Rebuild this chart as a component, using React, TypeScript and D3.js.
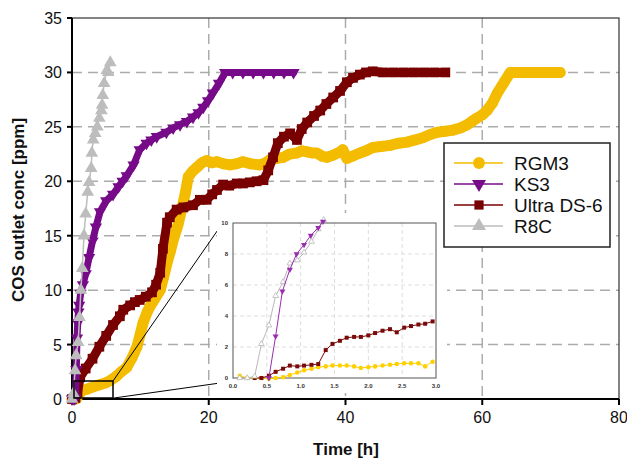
import React from "react";
import * as d3 from "d3";

// ---------- data (hours, ppm) ----------
const seriesNames = ["RGM3", "KS3", "Ultra DS-6", "R8C"];

const rgm3Main: [number, number][] = [
  [0, 0], [0.6, 0], [1.1, 0.5], [1.6, 0.8], [2.2, 0.9], [3.0, 1.1], [4.0, 1.3], [5.0, 1.5], [5.6, 1.7], [6.5, 2.1],
  [7.2, 2.5], [8.0, 2.9], [8.8, 3.8], [9.5, 4.8], [10.0, 6.0], [10.4, 7.0], [11.0, 8.0], [11.4, 8.5], [12.2, 9.3],
  [12.9, 10.0], [13.4, 11.2], [13.9, 12.5], [14.4, 13.6], [14.8, 14.6], [15.5, 16.0], [16.1, 17.6], [16.6, 19.0],
  [17.0, 20.4], [17.6, 20.9], [18.3, 21.3], [19.0, 21.7], [19.7, 21.9], [20.4, 21.7], [21.2, 21.8], [22.2, 21.6],
  [23.1, 21.5], [24.0, 21.6], [25.0, 21.8], [26.2, 21.6], [27.5, 21.5], [28.3, 21.7], [29.0, 22.0], [30.0, 22.1],
  [30.9, 22.2], [31.8, 22.5], [32.9, 22.6], [33.6, 22.8], [34.4, 22.7], [35.1, 22.6], [35.8, 22.6], [36.6, 22.3],
  [37.3, 22.2], [38.2, 22.4], [39.2, 22.7], [39.6, 22.9], [40.2, 22.1], [41.0, 22.3], [42.1, 22.6], [43.0, 22.8],
  [44.0, 23.1], [45.2, 23.2], [46.5, 23.3], [47.8, 23.5], [49.0, 23.6], [50.2, 23.8], [51.3, 24.0], [52.4, 24.3],
  [53.4, 24.5], [54.6, 24.6], [55.7, 24.7], [56.8, 24.9], [57.8, 25.2], [58.5, 25.5], [59.2, 25.8], [60.0, 26.1],
  [60.7, 26.5], [61.5, 27.2], [62.2, 28.1], [63.2, 29.1], [64.1, 30.0], [65.5, 30.0], [67.0, 30.0], [68.5, 30.0],
  [70.0, 30.0], [71.4, 30.0],
];

const ks3Main: [number, number][] = [
  [0, 0], [0.3, 0], [0.5, 0.1], [0.63, 2.7], [0.73, 5.6], [0.84, 7.0], [0.94, 8.0], [1.05, 8.6], [1.26, 9.7],
  [1.6, 10.5], [2.0, 11.5], [2.5, 13.0], [3.0, 14.5], [3.5, 15.8], [4.1, 17.2], [5.0, 18.2], [6.0, 18.8],
  [6.8, 19.5], [7.4, 20.0], [8.0, 20.5], [9.0, 21.5], [9.9, 22.9], [10.9, 23.5], [11.6, 23.8], [12.4, 24.1],
  [13.8, 24.5], [14.8, 24.9], [15.8, 25.2], [16.8, 25.5], [17.7, 25.9], [18.5, 26.3], [19.2, 26.8], [19.9, 27.4],
  [20.6, 28.1], [21.5, 29.0], [22.4, 30.0], [23.5, 30.0], [25.0, 30.0], [26.5, 30.0], [28.0, 30.0], [29.5, 30.0],
  [31.0, 30.0], [32.4, 30.0],
];

const ultraMain: [number, number][] = [
  [0, 0], [0.5, 0.1], [0.8, 0.6], [1.2, 2.0], [2.0, 2.8], [3.0, 3.7], [4.0, 4.8], [5.0, 5.8], [6.0, 6.8],
  [7.0, 7.6], [7.5, 8.2], [8.5, 8.6], [9.2, 8.9], [9.9, 9.1], [10.8, 9.4], [11.7, 9.8], [12.3, 10.5], [12.9, 11.6],
  [13.3, 13.8], [13.9, 16.2], [14.3, 16.7], [15.3, 17.4], [16.3, 17.6], [17.7, 17.8], [18.7, 18.3], [19.7, 18.3],
  [20.5, 18.8], [21.2, 19.2], [22.1, 19.7], [23.0, 19.6], [24.1, 19.8], [25.0, 19.8], [26.0, 19.9], [27.0, 20.0],
  [28.0, 20.1], [28.7, 21.0], [29.4, 22.2], [30.1, 23.5], [31.0, 24.1], [31.9, 24.4], [32.9, 23.8], [33.6, 24.8],
  [34.4, 25.4], [35.4, 26.0], [36.3, 26.5], [37.2, 27.1], [38.2, 27.7], [39.2, 28.3], [40.2, 29.1], [41.1, 29.5],
  [42.1, 29.8], [43.0, 30.0], [44.0, 30.1], [45.5, 30.0], [47.0, 30.0], [48.5, 30.0], [50.0, 30.0], [51.5, 30.0],
  [53.0, 30.0], [54.6, 30.0],
];

const r8cMain: [number, number][] = [
  [0, 0], [0.2, 0.5], [0.45, 2.6], [0.6, 4.0], [0.9, 5.2], [1.1, 7.5], [1.3, 10.0], [1.5, 12.0], [1.75, 15.0],
  [2.0, 17.0], [2.3, 19.0], [2.5, 19.9], [2.8, 21.2], [2.9, 22.6], [3.1, 23.8], [3.4, 24.4], [3.7, 25.0],
  [4.0, 25.8], [4.3, 26.5], [4.4, 27.0], [4.5, 27.9], [4.7, 29.0], [5.1, 30.2], [5.6, 30.9], [5.3, 30.0],
];

const rgm3Inset: [number, number][] = [
  [0.1, 0.15], [0.21, 0.0], [0.32, 0.0], [0.42, 0.0], [0.53, -0.05], [0.63, 0.0], [0.74, 0.05], [0.84, 0.2],
  [0.95, 0.35], [1.05, 0.5], [1.16, 0.6], [1.26, 0.7], [1.37, 0.75], [1.47, 0.8], [1.58, 0.8], [1.68, 0.8],
  [1.79, 0.75], [1.89, 0.65], [2.0, 0.7], [2.1, 0.75], [2.21, 0.8], [2.32, 0.85], [2.42, 0.9], [2.53, 0.95],
  [2.63, 0.95], [2.74, 0.95], [2.84, 0.75], [2.95, 1.05],
];
const ks3Inset: [number, number][] = [
  [0.53, 0.0], [0.63, 2.7], [0.73, 5.6], [0.84, 7.0], [0.94, 8.0], [1.05, 8.6], [1.15, 9.2], [1.26, 9.7], [1.33, 10.1],
];
const ultraInset: [number, number][] = [
  [0.32, 0.0], [0.42, 0.0], [0.53, 0.15], [0.63, 0.4], [0.74, 0.6], [0.84, 0.8], [0.95, 0.75], [1.05, 0.8],
  [1.16, 0.85], [1.26, 0.9], [1.37, 1.8], [1.47, 2.2], [1.58, 2.4], [1.68, 2.6], [1.79, 2.65], [1.89, 2.65],
  [2.0, 2.75], [2.1, 2.9], [2.21, 3.05], [2.32, 3.15], [2.42, 2.95], [2.53, 3.25], [2.63, 3.35], [2.74, 3.45],
  [2.84, 3.5], [2.95, 3.65],
];
const r8cInset: [number, number][] = [
  [0.1, 0.0], [0.21, 0.0], [0.32, 0.1], [0.42, 2.2], [0.53, 3.4], [0.63, 5.3], [0.74, 6.2], [0.84, 7.4],
  [0.95, 7.6], [1.05, 8.1], [1.16, 8.8], [1.26, 9.6], [1.34, 10.2],
];

const xTicks = [0, 20, 40, 60, 80];
const yTicks = [0, 5, 10, 15, 20, 25, 30, 35];
const insetXTicks = [0, 0.5, 1.0, 1.5, 2.0, 2.5, 3.0];
const insetYTicks = [0, 2, 4, 6, 8, 10];

// ---------- styles ----------
const colors = ["#F4BC00", "#760A88", "#780000", "#BDBDBD"];
const insetColors = ["#FFD000", "#9A2DAE", "#7A0A0A", "#B8B8B8"];
const symbols = [d3.symbolCircle, d3.symbolTriangle, d3.symbolSquare, d3.symbolTriangle];
const rotations = [0, 180, 0, 0];

export default function App() {
  const W = 627, H = 460;
  const x = d3.scaleLinear().domain([0, 80]).range([72, 619]);
  const y = d3.scaleLinear().domain([0, 35]).range([399, 18]);
  const xi = d3.scaleLinear().domain([0, 3]).range([233, 436]);
  const yi = d3.scaleLinear().domain([0, 10]).range([378, 223]);

  const mainData = [rgm3Main, ultraMain, ks3Main, r8cMain];
  const mainIdx = [0, 2, 1, 3];
  const mainWidth = [11, 9, 7, 1.5];
  const mainSize = [90, 95, 65, 70];

  const insetData = [rgm3Inset, ultraInset, r8cInset, ks3Inset];
  const insetIdx = [0, 2, 3, 1];

  const line = (sx: any, sy: any) =>
    d3.line<[number, number]>().x((d) => sx(d[0])).y((d) => sy(d[1]));

  const font = "'Liberation Sans', Arial, sans-serif";

  return (
    <svg width={W} height={H} style={{ position: "absolute", left: 0, top: 0, background: "#fff" }} fontFamily={font}>
      <rect x={0} y={0} width={W} height={H} fill="#fff" />
      {/* grid */}
      {xTicks.slice(1, -1).map((t) => (
        <line key={"gx" + t} x1={x(t)} x2={x(t)} y1={y(35)} y2={y(0)} stroke="#ABABAB" strokeWidth={1.5} strokeDasharray="10,6" />
      ))}
      {yTicks.slice(1, -1).map((t) => (
        <line key={"gy" + t} x1={x(0)} x2={x(80)} y1={y(t)} y2={y(t)} stroke="#ABABAB" strokeWidth={1.5} strokeDasharray="10,6" />
      ))}
      {/* frame */}
      <rect x={x(0)} y={y(35)} width={x(80) - x(0)} height={y(0) - y(35)} fill="none" stroke="#333" strokeWidth={1.2} />
      <line x1={x(0)} x2={x(0)} y1={y(35)} y2={y(0)} stroke="#000" strokeWidth={2} />
      <line x1={x(0)} x2={x(80)} y1={y(0)} y2={y(0)} stroke="#000" strokeWidth={2} />
      {xTicks.map((t) => (
        <g key={"tx" + t}>
          <line x1={x(t)} x2={x(t)} y1={y(0)} y2={y(0) + 6} stroke="#000" strokeWidth={2} />
          <text x={x(t)} y={y(0) + 24} textAnchor="middle" fontSize={16} fill="#111">{t}</text>
        </g>
      ))}
      {yTicks.map((t) => (
        <g key={"ty" + t}>
          <line x1={x(0) - 5} x2={x(0)} y1={y(t)} y2={y(t)} stroke="#000" strokeWidth={2} />
          <text x={x(0) - 10} y={y(t) + 6} textAnchor="end" fontSize={16} fill="#111">{t}</text>
        </g>
      ))}
      <text x={346} y={455} textAnchor="middle" fontSize={17} fontWeight="bold" fill="#111">Time [h]</text>
      <text transform="translate(24,210) rotate(-90)" textAnchor="middle" fontSize={17} fontWeight="bold" fill="#111">COS outlet conc [ppm]</text>

      {/* main series */}
      {mainData.map((data, k) => {
        const i = mainIdx[k];
        const sym = d3.symbol().type(symbols[i]).size(mainSize[k]);
        return (
          <g key={"m" + k}>
            <path d={line(x, y)(data) || ""} fill="none" stroke={colors[i]} strokeWidth={mainWidth[k]} strokeLinejoin="round" strokeLinecap="round" />
            {data.map((d, j) => (
              <path key={j} d={sym() || ""} transform={`translate(${x(d[0])},${y(d[1])}) rotate(${rotations[i]})`} fill={colors[i]} />
            ))}
          </g>
        );
      })}

      {/* zoom box and connectors */}
      <rect x={74} y={381} width={39} height={17} fill="none" stroke="#000" strokeWidth={1.5} />
      <line x1={113} y1={381} x2={222} y2={224} stroke="#000" strokeWidth={1} />
      <line x1={114} y1={398} x2={220} y2={383} stroke="#000" strokeWidth={1} />

      {/* inset */}
      <rect x={217} y={213} width={230} height={180} fill="#fff" />
      {insetXTicks.slice(1, -1).map((t) => (
        <line key={"igx" + t} x1={xi(t)} x2={xi(t)} y1={yi(10)} y2={yi(0)} stroke="#DDD" strokeWidth={1} strokeDasharray="4,3" />
      ))}
      {insetYTicks.slice(1, -1).map((t) => (
        <line key={"igy" + t} x1={xi(0)} x2={xi(3)} y1={yi(t)} y2={yi(t)} stroke="#DDD" strokeWidth={1} strokeDasharray="4,3" />
      ))}
      <rect x={xi(0)} y={yi(10)} width={xi(3) - xi(0)} height={yi(0) - yi(10)} fill="none" stroke="#555" strokeWidth={1} />
      {insetXTicks.map((t) => (
        <text key={"itx" + t} x={xi(t)} y={yi(0) + 10} textAnchor="middle" fontSize={6} fontWeight="bold" fill="#333">{t.toFixed(1)}</text>
      ))}
      {insetYTicks.map((t) => (
        <text key={"ity" + t} x={xi(0) - 5} y={yi(t) + 2} textAnchor="end" fontSize={6} fontWeight="bold" fill="#333">{t}</text>
      ))}
      {insetData.map((data, k) => {
        const i = insetIdx[k];
        const sym = d3.symbol().type(symbols[i]).size(i === 3 ? 14 : 16);
        return (
          <g key={"i" + k}>
            <path d={line(xi, yi)(data) || ""} fill="none" stroke={insetColors[i]} strokeWidth={1} />
            {data.map((d, j) => (
              <path key={j} d={sym() || ""} transform={`translate(${xi(d[0])},${yi(d[1])}) rotate(${rotations[i]})`}
                fill={i === 3 ? "#fff" : insetColors[i]} stroke={i === 3 ? insetColors[i] : "none"} strokeWidth={0.8} />
            ))}
          </g>
        );
      })}

      {/* legend */}
      <rect x={444} y={143} width={166} height={104} fill="#fff" stroke="#222" strokeWidth={1.5} />
      {seriesNames.map((name, i) => {
        const ly = 163 + i * 21;
        const sym = d3.symbol().type(symbols[i]).size(i === 0 ? 110 : 85);
        return (
          <g key={"l" + i}>
            <line x1={454} x2={503} y1={ly} y2={ly} stroke={colors[i]} strokeWidth={1.5} />
            <path d={sym() || ""} transform={`translate(479,${ly}) rotate(${rotations[i]})`} fill={colors[i]} />
            <text x={514} y={ly + 7} fontSize={19} fill="#111">{name}</text>
          </g>
        );
      })}
    </svg>
  );
}
